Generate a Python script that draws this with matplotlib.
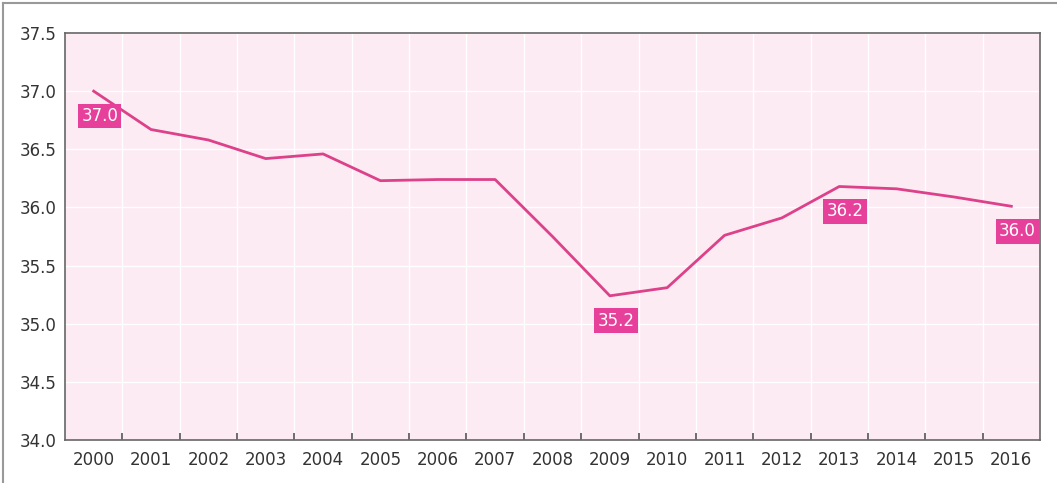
import matplotlib.pyplot as plt
from matplotlib.lines import Line2D
import numpy as np

years = ["2000", "2001", "2002", "2003", "2004", "2005", "2006", "2007", "2008",
         "2009", "2010", "2011", "2012", "2013", "2014", "2015", "2016"]
values = [37.0, 36.67, 36.58, 36.42, 36.46, 36.23, 36.24, 36.24, 35.75,
          35.24, 35.31, 35.76, 35.91, 36.18, 36.16, 36.09, 36.01]
labelled = {"2000": "37.0", "2009": "35.2", "2013": "36.2", "2016": "36.0"}
yticks = [34.0, 34.5, 35.0, 35.5, 36.0, 36.5, 37.0, 37.5]

LINE = "#dc4189"
BOX = "#e6409a"
BG = "#fdebf4"

plt.rcParams["font.family"] = ["Liberation Sans Narrow", "DejaVu Sans"]

fig = plt.figure(figsize=(10.57, 4.83), dpi=100)
ax = fig.add_axes([65 / 1057, 1 - 440 / 483, 975 / 1057, 407 / 483])
ax.set_facecolor(BG)

x = np.arange(len(years))
ax.plot(x, values, color=LINE, lw=2, zorder=3)

# value boxes sit just below the point
for i, yr in enumerate(years):
    if yr in labelled:
        ax.annotate(labelled[yr], (x[i], values[i]), xytext=(6, -25),
                    textcoords="offset pixels",
                    ha="center", va="center", color="white", fontsize=12,
                    bbox=dict(boxstyle="square,pad=0.2", fc=BOX, ec="none"),
                    zorder=4)

ax.set_xlim(-0.5, len(years) - 0.5)
ax.set_ylim(34.0, 37.5)
ax.set_yticks(yticks)
ax.set_yticklabels([f"{v:.1f}" for v in yticks])
ax.set_xticks(x)
ax.set_xticklabels(years)
ax.set_xticks(x[:-1] + 0.5, minor=True)
ax.tick_params(axis="x", which="major", length=0, pad=8, labelsize=12, colors="#333333")
ax.tick_params(axis="x", which="minor", length=5, width=1.2, direction="in", color="#555555")
ax.tick_params(axis="y", length=0, pad=6, labelsize=12, colors="#333333")

ax.grid(axis="y", color="white", lw=1)
ax.grid(axis="x", which="minor", color="white", lw=1)
ax.set_axisbelow(True)
for s in ax.spines.values():
    s.set_color("#666666")
    s.set_linewidth(1.2)

# outer frame on left and top
fig.add_artist(Line2D([3 / 1057, 3 / 1057], [0, 1 - 3 / 483], color="#999999", lw=1.5))
fig.add_artist(Line2D([3 / 1057, 1], [1 - 3 / 483, 1 - 3 / 483], color="#999999", lw=1.5))

fig.savefig("out.png", dpi=100)
